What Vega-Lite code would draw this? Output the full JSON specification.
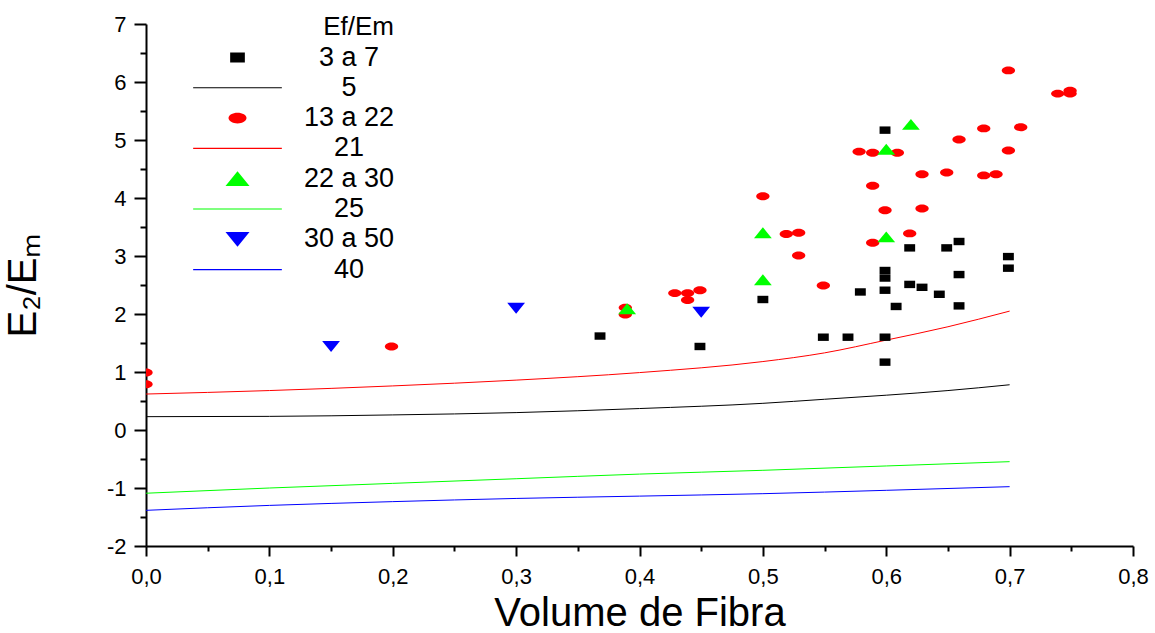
{
  "$schema": "https://vega.github.io/schema/vega-lite/v6.json",
  "width": 987,
  "height": 522,
  "autosize": {"type": "none"},
  "padding": {"left": 146, "top": 24, "right": 22, "bottom": 87},
  "background": "white",
  "config": {
    "view": {"stroke": null},
    "font": "Liberation Sans",
    "axis": {"grid": false, "domainColor": "black", "domainWidth": 2, "tickColor": "black", "tickWidth": 2, "labelColor": "black", "titleColor": "black", "labelFont": "Liberation Sans", "titleFont": "Liberation Sans", "titleFontWeight": "normal"},
    "legend": {"labelFont": "Liberation Sans", "titleFont": "Liberation Sans"}
  },
  "datasets": {
    "pontos": [
      {"serie": "3 a 7", "vf": 0.368, "e": 1.62},
      {"serie": "3 a 7", "vf": 0.449, "e": 1.44},
      {"serie": "3 a 7", "vf": 0.5, "e": 2.25},
      {"serie": "3 a 7", "vf": 0.549, "e": 1.6},
      {"serie": "3 a 7", "vf": 0.569, "e": 1.6},
      {"serie": "3 a 7", "vf": 0.579, "e": 2.38},
      {"serie": "3 a 7", "vf": 0.599, "e": 5.17},
      {"serie": "3 a 7", "vf": 0.599, "e": 2.75},
      {"serie": "3 a 7", "vf": 0.599, "e": 2.62},
      {"serie": "3 a 7", "vf": 0.599, "e": 2.41},
      {"serie": "3 a 7", "vf": 0.599, "e": 1.6},
      {"serie": "3 a 7", "vf": 0.599, "e": 1.17},
      {"serie": "3 a 7", "vf": 0.608, "e": 2.13},
      {"serie": "3 a 7", "vf": 0.619, "e": 3.14},
      {"serie": "3 a 7", "vf": 0.619, "e": 2.51},
      {"serie": "3 a 7", "vf": 0.629, "e": 2.46},
      {"serie": "3 a 7", "vf": 0.643, "e": 2.34},
      {"serie": "3 a 7", "vf": 0.649, "e": 3.14},
      {"serie": "3 a 7", "vf": 0.659, "e": 3.25},
      {"serie": "3 a 7", "vf": 0.659, "e": 2.68},
      {"serie": "3 a 7", "vf": 0.659, "e": 2.14},
      {"serie": "3 a 7", "vf": 0.699, "e": 2.99},
      {"serie": "3 a 7", "vf": 0.699, "e": 2.79},
      {"serie": "13 a 22", "vf": 0.0, "e": 0.99},
      {"serie": "13 a 22", "vf": 0.0, "e": 0.79},
      {"serie": "13 a 22", "vf": 0.199, "e": 1.44},
      {"serie": "13 a 22", "vf": 0.3885, "e": 2.11},
      {"serie": "13 a 22", "vf": 0.3885, "e": 1.99},
      {"serie": "13 a 22", "vf": 0.4286, "e": 2.36},
      {"serie": "13 a 22", "vf": 0.439, "e": 2.36},
      {"serie": "13 a 22", "vf": 0.449, "e": 2.41},
      {"serie": "13 a 22", "vf": 0.439, "e": 2.24},
      {"serie": "13 a 22", "vf": 0.5, "e": 4.03},
      {"serie": "13 a 22", "vf": 0.519, "e": 3.38},
      {"serie": "13 a 22", "vf": 0.529, "e": 3.4},
      {"serie": "13 a 22", "vf": 0.529, "e": 3.01},
      {"serie": "13 a 22", "vf": 0.549, "e": 2.49},
      {"serie": "13 a 22", "vf": 0.578, "e": 4.8},
      {"serie": "13 a 22", "vf": 0.589, "e": 4.78},
      {"serie": "13 a 22", "vf": 0.609, "e": 4.78},
      {"serie": "13 a 22", "vf": 0.589, "e": 4.21},
      {"serie": "13 a 22", "vf": 0.599, "e": 3.79},
      {"serie": "13 a 22", "vf": 0.589, "e": 3.23},
      {"serie": "13 a 22", "vf": 0.619, "e": 3.39},
      {"serie": "13 a 22", "vf": 0.629, "e": 4.41},
      {"serie": "13 a 22", "vf": 0.629, "e": 3.82},
      {"serie": "13 a 22", "vf": 0.649, "e": 4.44},
      {"serie": "13 a 22", "vf": 0.659, "e": 5.01},
      {"serie": "13 a 22", "vf": 0.679, "e": 5.2},
      {"serie": "13 a 22", "vf": 0.679, "e": 4.39},
      {"serie": "13 a 22", "vf": 0.689, "e": 4.41},
      {"serie": "13 a 22", "vf": 0.699, "e": 6.2},
      {"serie": "13 a 22", "vf": 0.699, "e": 4.82},
      {"serie": "13 a 22", "vf": 0.709, "e": 5.22},
      {"serie": "13 a 22", "vf": 0.739, "e": 5.8},
      {"serie": "13 a 22", "vf": 0.749, "e": 5.85},
      {"serie": "13 a 22", "vf": 0.749, "e": 5.8},
      {"serie": "22 a 30", "vf": 0.39, "e": 2.09},
      {"serie": "22 a 30", "vf": 0.5, "e": 3.4},
      {"serie": "22 a 30", "vf": 0.5, "e": 2.59},
      {"serie": "22 a 30", "vf": 0.6, "e": 4.84},
      {"serie": "22 a 30", "vf": 0.6, "e": 3.33},
      {"serie": "22 a 30", "vf": 0.62, "e": 5.27},
      {"serie": "30 a 50", "vf": 0.15, "e": 1.44},
      {"serie": "30 a 50", "vf": 0.3, "e": 2.1},
      {"serie": "30 a 50", "vf": 0.45, "e": 2.03}
    ],
    "curvas": [
      {"serie": "5", "vf": 0.0, "e": 0.23},
      {"serie": "5", "vf": 0.1, "e": 0.235},
      {"serie": "5", "vf": 0.2, "e": 0.26},
      {"serie": "5", "vf": 0.3, "e": 0.3},
      {"serie": "5", "vf": 0.4, "e": 0.37},
      {"serie": "5", "vf": 0.5, "e": 0.46},
      {"serie": "5", "vf": 0.55, "e": 0.53},
      {"serie": "5", "vf": 0.6, "e": 0.6},
      {"serie": "5", "vf": 0.65, "e": 0.68},
      {"serie": "5", "vf": 0.7, "e": 0.78},
      {"serie": "21", "vf": 0.0, "e": 0.62},
      {"serie": "21", "vf": 0.1, "e": 0.68},
      {"serie": "21", "vf": 0.2, "e": 0.76},
      {"serie": "21", "vf": 0.3, "e": 0.86},
      {"serie": "21", "vf": 0.4, "e": 0.99},
      {"serie": "21", "vf": 0.5, "e": 1.18},
      {"serie": "21", "vf": 0.55, "e": 1.33},
      {"serie": "21", "vf": 0.6, "e": 1.55},
      {"serie": "21", "vf": 0.65, "e": 1.78},
      {"serie": "21", "vf": 0.7, "e": 2.05},
      {"serie": "25", "vf": 0.0, "e": -1.09},
      {"serie": "25", "vf": 0.1, "e": -1.0},
      {"serie": "25", "vf": 0.2, "e": -0.92},
      {"serie": "25", "vf": 0.3, "e": -0.84},
      {"serie": "25", "vf": 0.4, "e": -0.76},
      {"serie": "25", "vf": 0.5, "e": -0.695},
      {"serie": "25", "vf": 0.6, "e": -0.62},
      {"serie": "25", "vf": 0.7, "e": -0.546},
      {"serie": "40", "vf": 0.0, "e": -1.385},
      {"serie": "40", "vf": 0.1, "e": -1.3},
      {"serie": "40", "vf": 0.2, "e": -1.235},
      {"serie": "40", "vf": 0.3, "e": -1.18},
      {"serie": "40", "vf": 0.4, "e": -1.14},
      {"serie": "40", "vf": 0.5, "e": -1.098},
      {"serie": "40", "vf": 0.6, "e": -1.04},
      {"serie": "40", "vf": 0.7, "e": -0.977}
    ]
  },
  "encoding": {
    "x": {
      "field": "vf", "type": "quantitative",
      "scale": {"domain": [0, 0.8], "nice": false, "zero": false},
      "axis": {
        "title": "Volume de Fibra",
        "values": [0, 0.05, 0.1, 0.15, 0.2, 0.25, 0.3, 0.35, 0.4, 0.45, 0.5, 0.55, 0.6, 0.65, 0.7, 0.75, 0.8],
        "labelExpr": "abs(datum.value*10 - round(datum.value*10)) < 0.001 ? replace(format(datum.value, '.1f'), '.', ',') : ''",
        "tickSize": {"condition": {"test": "abs(datum.value*10 - round(datum.value*10)) < 0.001", "value": 10}, "value": 5},
        "labelFontSize": 22,
        "labelPadding": 10,
        "labelFlush": false,
        "labelOverlap": false,
        "titleFontSize": 40,
        "titlePadding": 6
      }
    },
    "y": {
      "field": "e", "type": "quantitative",
      "scale": {"domain": [-2, 7], "nice": false, "zero": false},
      "axis": {
        "title": "E₂/Eₘ",
        "values": [-2, -1.5, -1, -0.5, 0, 0.5, 1, 1.5, 2, 2.5, 3, 3.5, 4, 4.5, 5, 5.5, 6, 6.5, 7],
        "labelExpr": "datum.value % 1 === 0 ? '' + datum.value : ''",
        "tickSize": {"condition": {"test": "datum.value % 1 === 0", "value": 12}, "value": 6},
        "labelFontSize": 22,
        "labelPadding": 8,
        "labelFlush": false,
        "labelOverlap": false,
        "titleFontSize": 40,
        "titleAngle": -90,
        "titleX": -111,
        "titleY": 261,
        "titleAlign": "center",
        "titleBaseline": "alphabetic"
      }
    }
  },
  "layer": [
    {
      "data": {"name": "curvas"},
      "mark": {"type": "line", "strokeWidth": 1, "interpolate": "monotone"},
      "encoding": {
        "stroke": {
          "field": "serie", "type": "nominal",
          "scale": {"domain": ["5", "21", "25", "40"], "range": ["#000000", "#ff0000", "#00ff00", "#0000ff"]},
          "legend": null
        }
      }
    },
    {
      "data": {"name": "pontos"},
      "mark": {"type": "point", "filled": true, "opacity": 1, "size": 55, "clip": true},
      "encoding": {
        "color": {
          "field": "serie", "type": "nominal",
          "scale": {"domain": ["3 a 7", "5", "13 a 22", "21", "22 a 30", "25", "30 a 50", "40"], "range": ["#000000", "#000000", "#ff0000", "#ff0000", "#00ff00", "#00ff00", "#0000ff", "#0000ff"]},
          "legend": {
            "title": "Ef/Em",
            "orient": "none",
            "legendX": 78,
            "legendY": -10,
            "padding": 0,
            "symbolSize": 100,
            "symbolStrokeWidth": 0,
            "labelFontSize": 27,
            "labelAlign": "center",
            "labelOffset": 98,
            "labelColor": "black",
            "titleFontSize": 26,
            "titleFontWeight": "normal",
            "titleColor": "black",
            "titleAnchor": "end",
            "titlePadding": 4,
            "rowPadding": 2.3
          }
        },
        "shape": {
          "field": "serie", "type": "nominal",
          "scale": {"domain": ["3 a 7", "5", "13 a 22", "21", "22 a 30", "25", "30 a 50", "40"], "range": ["M-1.47,-1H1.47V1H-1.47Z", "M-8.87,-0.11H8.87V0.11H-8.87Z", "M-1.8,0A1.8,1.07 0 1,0 1.8,0A1.8,1.07 0 1,0 -1.8,0Z", "M-8.87,-0.11H8.87V0.11H-8.87Z", "M-2.4,1.47L0,-1.47L2.4,1.47Z", "M-8.87,-0.11H8.87V0.11H-8.87Z", "M-2.4,-1.47L2.4,-1.47L0,1.47Z", "M-8.87,-0.11H8.87V0.11H-8.87Z"]},
          "legend": {
            "title": "Ef/Em",
            "orient": "none",
            "legendX": 78,
            "legendY": -10,
            "padding": 0,
            "symbolSize": 100,
            "symbolStrokeWidth": 0,
            "labelFontSize": 27,
            "labelAlign": "center",
            "labelOffset": 98,
            "labelColor": "black",
            "titleFontSize": 26,
            "titleFontWeight": "normal",
            "titleColor": "black",
            "titleAnchor": "end",
            "titlePadding": 4,
            "rowPadding": 2.3
          }
        }
      }
    }
  ]
}
